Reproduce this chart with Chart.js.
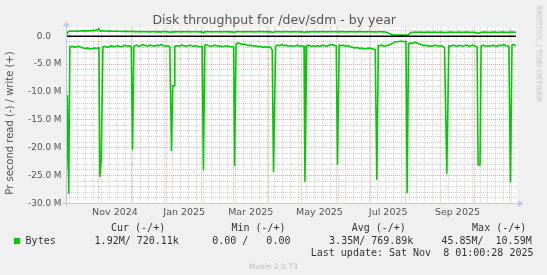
<!DOCTYPE html>
<html><head><meta charset="utf-8">
<script src="https://cdn.jsdelivr.net/npm/chart.js@4.4.1/dist/chart.umd.min.js"></script>
<style>
html,body{margin:0;padding:0;background:#f0f0f0;}
#wrap{position:relative;width:547px;height:275px;overflow:hidden;background:#f0f0f0;}
canvas{position:absolute;left:0;top:0;}
.t{position:absolute;white-space:pre;font-family:"DejaVu Sans",sans-serif;}
.m{position:absolute;white-space:pre;font-family:"DejaVu Sans Mono",monospace;font-size:10px;line-height:12px;height:12px;color:#333;}
</style></head><body>
<div id="wrap">
<canvas id="c" width="547" height="275"></canvas>
<div class="t" style="left:274.2px;top:12.2px;transform:translateX(-50%);font-size:12.5px;line-height:15px;color:#555;">Disk throughput for /dev/sdm - by year</div>
<div class="t" style="left:-90px;top:117.4px;width:200px;height:12px;line-height:12px;text-align:center;font-size:10px;color:#555;transform:rotate(-90deg);">Pr second read (-) / write (+)</div>
<div class="t" style="left:489.3px;top:48.8px;width:100px;height:9px;line-height:9px;text-align:center;font-size:7.5px;color:#c4c4c4;transform:rotate(90deg);">RRDTOOL / TOBI OETIKER</div>
<div class="m" style="left:111px;top:221.7px;">Cur (-/+)</div>
<div class="m" style="left:231.4px;top:221.7px;">Min (-/+)</div>
<div class="m" style="left:351.7px;top:221.7px;">Avg (-/+)</div>
<div class="m" style="left:472.1px;top:221.7px;">Max (-/+)</div>
<div style="position:absolute;left:14px;top:238px;width:6px;height:6px;background:#00cc00;"></div>
<div class="m" style="left:25.6px;top:234.9px;">Bytes</div>
<div class="m" style="left:94.6px;top:234.9px;">1.92M/ 720.11k</div>
<div class="m" style="left:212.2px;top:234.9px;">0.00 /   0.00</div>
<div class="m" style="left:329.1px;top:234.9px;">3.35M/ 769.89k</div>
<div class="m" style="left:441.4px;top:234.9px;">45.85M/  10.59M</div>
<div class="m" style="right:13.5px;top:247.1px;">Last update: Sat Nov  8 01:00:28 2025</div>
<div class="t" style="left:273.2px;top:261.5px;transform:translateX(-50%);font-size:7.5px;line-height:9px;color:#bdbdbd;">Munin 2.0.73</div>
</div>
<script>
// x = days since 4 Oct 2024 (400-day window), y = million bytes per second
const readDays = [0,0.8,2.0,3.0,5,7,9,11,13,15,17,19,21,23,25,27,28.8,29.6,30.9,31.5,32.3,34,36,38,40,42,44,46,48,50,52,54,56,57.5,58.6,59.8,62,64,66,68,70,72,74,76,78,80,82,84,86,88,90,91.7,93.2,94.3,95.5,96.1,98,100,102,104,106,108,110,112,114,116,118,120.4,121.5,122.8,124,126,128,130,132,134,136,138,140,142,144,146,148.4,149.2,150.5,152,154,156,158,160,162,164,166,168,170,172,174,176,178,180,181.5,182.6,183.7,185.6,187,189,191,193,195,197,199,201,203,205,207,209,210.8,211.6,213.2,215,217,219,221,223,225,227,229,231,233,235,237,239.4,240.5,242.0,244,246,248,250,252,254,256,258,260,262,264,266,268,270,272,274.0,275.4,276.8,278,280,282,284,286,288,290,292,294,296,298,300,301.3,302.3,303.6,305,307,309,311,313,315,317,319,321,323,325,327,329,331,333,335.5,337.5,339.3,341,343,345,347,349,351,353,355,357,359,361,363,364.4,365.3,367.0,368.0,370,372,374,376,378,380,382,384,386,388,390,392.6,394.0,395.4,397,398.8];
const readVals = [-24.0,-10.7,-28.2,-1.9,-1.8,-2.0,-1.9,-1.8,-2.0,-2.1,-2.2,-2.1,-2.3,-2.2,-2.1,-2.2,-2.0,-25.2,-21.9,-21.9,-1.9,-1.8,-2.0,-1.9,-1.7,-1.9,-1.8,-1.7,-1.9,-1.8,-1.6,-1.8,-1.7,-1.9,-20.3,-1.8,-1.6,-1.8,-1.7,-1.5,-1.7,-1.8,-1.6,-1.7,-1.8,-1.6,-1.7,-1.5,-1.7,-1.8,-1.7,-1.9,-20.5,-8.9,-8.9,-1.8,-1.7,-1.8,-1.6,-1.7,-1.8,-1.7,-1.6,-1.8,-1.7,-1.8,-1.9,-1.8,-24.0,-1.6,-1.5,-1.7,-1.8,-1.7,-1.6,-1.8,-1.7,-1.9,-1.8,-1.7,-1.8,-1.9,-1.9,-23.2,-1.4,-1.2,-1.3,-1.5,-1.4,-1.6,-1.7,-1.6,-1.8,-1.7,-1.9,-1.8,-2.0,-1.9,-2.0,-1.9,-2.1,-2.5,-24.3,-1.8,-1.6,-1.7,-1.5,-1.7,-1.6,-1.8,-1.7,-1.8,-1.7,-1.6,-1.8,-1.7,-1.8,-26.1,-1.7,-1.6,-1.8,-1.7,-1.8,-1.7,-1.8,-1.6,-1.7,-1.8,-1.6,-1.5,-1.6,-1.7,-23.0,-1.6,-1.7,-1.6,-1.8,-1.7,-1.9,-2.0,-2.1,-2.0,-2.2,-2.1,-2.3,-2.2,-2.1,-2.2,-2.3,-2.4,-25.7,-1.6,-1.7,-1.6,-1.8,-1.7,-1.6,-1.4,-1.2,-1.0,-1.0,-0.9,-0.9,-1.0,-0.9,-28.1,-1.3,-1.2,-1.3,-1.1,-1.2,-1.4,-1.5,-1.7,-1.6,-1.8,-1.7,-1.8,-1.6,-1.7,-1.8,-1.7,-2.1,-24.6,-1.7,-1.8,-1.6,-1.7,-1.8,-1.6,-1.8,-1.7,-1.6,-1.8,-1.7,-1.6,-1.8,-1.9,-23.1,-23.1,-1.7,-1.6,-1.8,-1.7,-1.8,-1.6,-1.7,-1.8,-1.6,-1.7,-1.5,-1.7,-1.8,-26.1,-1.6,-1.5,-1.7];
const writeDays = [0,1.5,3,5,7,9,11,13,15,17,19,21,23,25,27,28.5,30,32,34,36,38,40,42,44,46,48,50,52,54,56,58,60,62,64,66,68,70,72,74,76,78,80,82,84,86,88,90,92,94,96,98,100,102,104,106,108,110,112,114,116,118,120,121.5,123,125,127,129,131,133,135,137,139,141,143,145,147,149,151,153,155,157,159,161,163,165,167,169,171,173,175,177,179,181,183,185,187,189,191,193,195,197,199,201,203,205,207,209,211,213,215,217,219,221,223,225,227,229,231,233,235,237,239,241,243,245,247,249,251,253,255,257,259,261,263,265,267,269,271,273,275,277,279,281,283,285,287,289,291,293,295,297,299,301,303,304.5,306,308,310,312,314,316,318,320,322,324,326,328,330,332,334,336,338,340,342,344,346,348,350,352,354,356,358,360,362,364,366,368,370,372,374,376,378,380,382,384,386,388,390,392,394,396,398.8];
const writeVals = [0.2,0.85,0.9,0.95,0.9,0.93,0.9,0.97,0.95,0.92,1.0,0.95,1.05,1.0,1.1,1.35,0.9,1.0,0.95,0.9,0.95,0.9,0.88,0.92,0.9,0.85,0.9,0.87,0.9,0.85,0.88,0.82,0.85,0.8,0.84,0.8,0.83,0.8,0.78,0.82,0.8,0.77,0.8,0.78,0.82,0.8,0.78,0.72,0.8,0.78,0.82,0.8,0.78,0.8,0.83,0.8,0.78,0.8,0.82,0.8,0.78,0.8,0.6,0.8,0.82,0.8,0.78,0.8,0.83,0.8,0.78,0.8,0.82,0.8,0.78,0.8,0.7,0.85,0.82,0.8,0.78,0.82,0.8,0.85,0.8,0.78,0.8,0.82,0.8,0.84,0.8,0.78,0.8,0.72,0.8,0.82,0.8,0.78,0.8,0.82,0.8,0.78,0.8,0.82,0.8,0.78,0.8,0.7,0.8,0.78,0.8,0.82,0.8,0.78,0.8,0.82,0.8,0.78,0.8,0.82,0.8,0.85,0.75,0.8,0.82,0.8,0.78,0.8,0.82,0.8,0.78,0.8,0.82,0.8,0.78,0.8,0.82,0.8,0.78,0.75,0.8,0.8,0.78,0.75,0.6,0.45,0.28,0.22,0.2,0.22,0.2,0.2,0.22,0.2,0.45,0.7,0.72,0.75,0.72,0.75,0.72,0.7,0.73,0.75,0.72,0.75,0.72,0.7,0.74,0.72,0.65,0.72,0.75,0.73,0.7,0.72,0.75,0.72,0.7,0.73,0.75,0.72,0.7,0.72,0.6,0.55,0.7,0.73,0.75,0.72,0.7,0.73,0.75,0.72,0.7,0.73,0.75,0.72,0.7,0.73,0.75,0.72];
const zeroDays = [0, 398.8];
const zeroVals = [0, 0];
const monthStarts = [28,58,89,120,148,179,209,240,270,301,332,362,393];
const labelDays = [43,104.5,163.5,224.5,285.5,347];
const labelTexts = ['Nov 2024','Jan 2025','Mar 2025','May 2025','Jul 2025','Sep 2025'];
const yMajor = [-30,-25,-20,-15,-10,-5,0];
const yLabels = ['-30.0 M','-25.0 M','-20.0 M','-15.0 M','-10.0 M','-5.0 M','0.0\u2003\u2009'];

const GRID = 'rgba(170,170,170,0.55)';
const MGRID = 'rgba(235,110,110,0.6)';
const AXIS = '#c3c7f2';

const weekDays = [];
for (let d = 3; d < 400; d += 7) if (!monthStarts.includes(d)) weekDays.push(d);
const xTicks = [...weekDays, ...monthStarts, ...labelDays].sort((a,b)=>a-b);
const yTicks = [];
for (let v = -30; v <= 1; v++) yTicks.push(v);

const pts = (xs, ys) => xs.map((x,i)=>({x:x, y:ys[i]}));

const frame = {
  id:'frame',
  beforeDraw(chart){
    const {ctx, chartArea:a} = chart;
    ctx.save(); ctx.fillStyle = '#ffffff';
    ctx.fillRect(a.left, a.top, a.right-a.left, a.bottom-a.top);
    ctx.restore();
  },
  afterDraw(chart){
    const {ctx, chartArea:a} = chart;
    const lx = Math.floor(a.left)+0.5, by = Math.floor(a.bottom)+0.5;
    ctx.save();
    ctx.strokeStyle = AXIS; ctx.fillStyle = AXIS; ctx.lineWidth = 1;
    ctx.beginPath(); ctx.moveTo(lx, by+3); ctx.lineTo(lx, a.top-2); ctx.stroke();
    ctx.beginPath(); ctx.moveTo(lx-3.5, a.top-0.5); ctx.lineTo(lx+3.5, a.top-0.5); ctx.lineTo(lx, a.top-6); ctx.closePath(); ctx.fill();
    ctx.beginPath(); ctx.moveTo(lx-4, by); ctx.lineTo(a.right+2, by); ctx.stroke();
    ctx.beginPath(); ctx.moveTo(a.right+1, by-3.5); ctx.lineTo(a.right+1, by+3.5); ctx.lineTo(a.right+6.5, by); ctx.closePath(); ctx.fill();
    ctx.restore();
  }
};

new Chart(document.getElementById('c'), {
  type:'line',
  data:{ datasets:[
    {data:pts(zeroDays, zeroVals), borderColor:'#000000', borderWidth:1.4, pointRadius:0},
    {data:pts(readDays, readVals), borderColor:'#00cc00', borderWidth:1.6, pointRadius:0},
    {data:pts(writeDays, writeVals), borderColor:'#00cc00', borderWidth:1.6, pointRadius:0}
  ]},
  options:{
    responsive:false, animation:false, devicePixelRatio:1, parsing:false, events:[],
    layout:{padding:{left:0, top:27.3, right:29.8, bottom:0}},
    elements:{line:{tension:0, borderJoinStyle:'round'}},
    plugins:{legend:{display:false}, tooltip:{enabled:false}, title:{display:false}},
    scales:{
      x:{
        type:'linear', min:0, max:400,
        afterFit(s){ s.height = 71.7; },
        afterBuildTicks(s){ s.ticks = xTicks.map(v=>({value:v})); },
        grid:{ drawTicks:false, lineWidth:1,
          color(ctx){ const v = ctx.tick ? ctx.tick.value : null;
            if (monthStarts.includes(v)) return MGRID;
            if (labelDays.includes(v)) return 'rgba(0,0,0,0)';
            return GRID; } },
        border:{display:false, dash:[1,1]},
        ticks:{ autoSkip:false, maxRotation:0, minRotation:0, padding:4, color:'#555',
          font:{family:'DejaVu Sans', size:9.5},
          callback(v){ const i = labelDays.indexOf(v); return i >= 0 ? labelTexts[i] : ''; } }
      },
      y:{
        type:'linear', min:-30, max:1.6,
        afterFit(s){ s.width = 66.5; },
        afterBuildTicks(s){ s.ticks = yTicks.map(v=>({value:v})); },
        grid:{ drawTicks:false, lineWidth:1,
          color(ctx){ const v = ctx.tick ? ctx.tick.value : null;
            return yMajor.includes(v) ? MGRID : GRID; } },
        border:{display:false, dash:[1,1]},
        ticks:{ autoSkip:false, padding:5, color:'#555',
          font:{family:'DejaVu Sans', size:8.9},
          callback(v){ const i = yMajor.indexOf(v); return i >= 0 ? yLabels[i] : ''; } }
      }
    }
  },
  plugins:[frame]
});
</script>
</body></html>
